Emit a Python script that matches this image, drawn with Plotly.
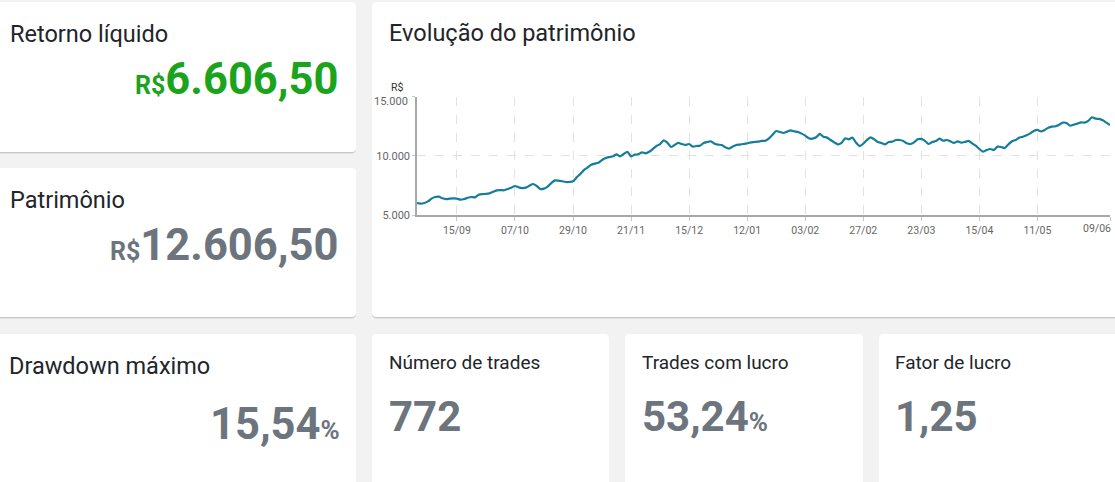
import plotly.graph_objects as go

W, H = 1115, 482

# ---------------- data ----------------
equity = [
    6000, 5960, 6010, 6150, 6380, 6520, 6550, 6410, 6350, 6380,
    6400, 6380, 6300, 6350, 6460, 6520, 6490, 6720, 6770, 6780,
    6830, 6970, 7080, 7110, 7090, 7200, 7310, 7450, 7340, 7280,
    7310, 7480, 7620, 7450, 7200, 7230, 7400, 7700, 7930, 7900,
    7850, 7790, 7790, 7850, 8180, 8460, 8800, 9010, 9250, 9340,
    9420, 9650, 9820, 9900, 9960, 10130, 9960, 10160, 10330, 9960,
    10100, 10130, 10300, 10210, 10350, 10580, 10830, 11000, 11310, 11120,
    10750, 10920, 11090, 11000, 10920, 11000, 10780, 10830, 10860, 11090,
    11170, 11230, 11030, 10950, 10920, 10720, 10610, 10780, 10920, 10950,
    11000, 11060, 11140, 11170, 11200, 11260, 11280, 11480, 11790, 12100,
    12020, 11930, 12050, 12160, 12070, 12020, 11880, 11710, 11480, 11450,
    11570, 11850, 11620, 11540, 11340, 11140, 10970, 11090, 11480, 11400,
    11540, 11120, 10830, 11030, 11340, 11570, 11400, 11170, 11090, 10970,
    11170, 11200, 11340, 11340, 11260, 11060, 11000, 11140, 11400, 11430,
    11260, 11000, 11170, 11250, 11450, 11280, 11340, 11230, 11090, 11230,
    11120, 11170, 11260, 11060, 10860, 10580, 10350, 10500, 10580, 10500,
    10780, 10750, 10660, 10970, 11230, 11340, 11540, 11620, 11740, 11900,
    12100, 12190, 12070, 12190, 12380, 12470, 12500, 12640, 12810, 12780,
    12550, 12640, 12720, 12830, 12810, 12950, 13260, 13140, 13120, 13000,
    12810, 12606.5,
]
tick_index = [11, 27, 43, 59, 75, 91, 107, 123, 139, 155, 171, 191]
tick_labels = ["15/09", "07/10", "29/10", "21/11", "15/12", "12/01",
               "03/02", "27/02", "23/03", "15/04", "11/05", "09/06"]
y_ticks = [5000, 10000, 15000]
y_tick_labels = ["5.000", "10.000", "15.000"]

card_titles = ["Retorno líquido", "Patrimônio", "Drawdown máximo",
               "Número de trades", "Trades com lucro", "Fator de lucro"]
card_values = ["6.606,50", "12.606,50", "15,54", "772", "53,24", "1,25"]
card_prefix = ["R$", "R$", "", "", "", ""]
card_suffix = ["", "", "%", "", "%", ""]
chart_title = "Evolução do patrimônio"
unit_label = "R$"

# ---------------- helpers ----------------
def px(x):
    return x / W


def py(y):
    return 1 - y / H


def rrect(x0, y0, x1, y1, r=4):
    rx, ry = r / W, r / H
    X0, X1 = px(x0), px(x1)
    Y0, Y1 = py(y0), py(y1)  # Y0 top, Y1 bottom
    return (f"M {X0+rx},{Y0} L {X1-rx},{Y0} Q {X1},{Y0} {X1},{Y0-ry} "
            f"L {X1},{Y1+ry} Q {X1},{Y1} {X1-rx},{Y1} "
            f"L {X0+rx},{Y1} Q {X0},{Y1} {X0},{Y1+ry} "
            f"L {X0},{Y0-ry} Q {X0},{Y0} {X0+rx},{Y0} Z")


FONT = "Roboto"
TITLE_C = "#212529"
GREY = "#6c757d"
GREEN = "#1ba41b"
TICK_C = "#666666"

fig = go.Figure()
fig.add_trace(go.Scatter(
    x=list(range(len(equity))), y=equity, mode="lines",
    line=dict(color="#157d9c", width=2.2, shape="spline", smoothing=0.6),
    hoverinfo="skip", showlegend=False,
))

# ---------------- cards ----------------
cards = [(-10, 2, 356, 152), (-10, 168, 356, 317), (372, 2, 1130, 317),
         (-10, 334, 356, 495), (372, 334, 609, 495), (625, 334, 863, 495),
         (879, 334, 1130, 495)]
shapes = []
for (x0, y0, x1, y1) in cards:
    shapes.append(dict(type="path", path=rrect(x0, y0 + 1, x1, y1 + 2, 5), xref="paper", yref="paper",
                       fillcolor="rgba(0,0,0,0.06)", line=dict(width=0), layer="below"))
    shapes.append(dict(type="path", path=rrect(x0, y0 + 0.5, x1, y1 + 1, 4), xref="paper", yref="paper",
                       fillcolor="rgba(0,0,0,0.12)", line=dict(width=0), layer="below"))
    shapes.append(dict(type="path", path=rrect(x0, y0, x1, y1, 4), xref="paper", yref="paper",
                       fillcolor="white", line=dict(width=0), layer="below"))

ann = []


def text(x, y, s, size, color, anchor="left", weight="normal"):
    ann.append(dict(x=px(x), y=py(y), xref="paper", yref="paper", text=s, showarrow=False,
                    xanchor=anchor, yanchor="middle",
                    font=dict(family=FONT, size=size, color=color, weight=weight)))


def value_text(i, small):
    s = ""
    if card_prefix[i]:
        s += f"<span style='font-size:{small}px'>{card_prefix[i]}</span>"
    s += card_values[i]
    if card_suffix[i]:
        s += f"<span style='font-size:{small}px'>{card_suffix[i]}</span>"
    return s


# big left cards
text(8, 34, card_titles[0], 23.5, TITLE_C)
text(340, 80, value_text(0, 25), 43.5, GREEN, "right", "bold")
text(8, 200, card_titles[1], 23.5, TITLE_C)
text(340, 245, value_text(1, 25), 43.5, GREY, "right", "bold")
text(7, 366, card_titles[2], 23.5, TITLE_C)
text(342, 424, value_text(2, 26), 43.5, GREY, "right", "bold")
# small cards
for i, x in zip([3, 4, 5], [387, 640, 893]):
    text(x, 362, card_titles[i], 19, TITLE_C)
    text(x, 416, value_text(i, 26), 42, GREY, "left", "bold")

# chart title and unit label
text(387, 33, chart_title, 23.5, TITLE_C)
text(397, 87, unit_label, 10.5, "#333333", "center")

# tick labels that the reference nudges inward (top y label, last x label)
axis_ticktext_x = tick_labels[:-1] + [""]
axis_ticktext_y = y_tick_labels[:-1] + [""]
ann.append(dict(x=0, xref="paper", y=y_ticks[-1], yref="y", text=y_tick_labels[-1],
                showarrow=False, xanchor="right", yanchor="middle", yshift=-5,
                font=dict(family=FONT, size=11, color=TICK_C)))
ann[-1]["x"] = px(410)
ann.append(dict(x=tick_index[-1], xref="x", y=y_ticks[0], yref="y", text=tick_labels[-1],
                showarrow=False, xanchor="right", yanchor="top", yshift=-5, xshift=3,
                font=dict(family=FONT, size=10.5, color=TICK_C)))

fig.update_layout(
    width=W, height=H, margin=dict(l=0, r=0, t=0, b=0, pad=0, autoexpand=False),
    paper_bgcolor="#f2f2f2", plot_bgcolor="rgba(0,0,0,0)",
    shapes=shapes, annotations=ann, showlegend=False,
    xaxis=dict(domain=[px(417), px(1110)], range=[0, len(equity) - 1], automargin=False,
               tickmode="array", tickvals=tick_index, ticktext=axis_ticktext_x,
               showgrid=True, gridcolor="#e2e2e2", griddash="dash", gridwidth=1,
               showline=True, linecolor="#a8a8a8", linewidth=2,
               ticks="outside", ticklen=4, tickcolor="#c8c8c8",
               tickfont=dict(family=FONT, size=10.5, color=TICK_C), zeroline=False),
    yaxis=dict(domain=[py(215), py(96.7)], range=[5000, 15000], automargin=False,
               tickmode="array", tickvals=y_ticks, ticktext=axis_ticktext_y,
               showgrid=True, gridcolor="#e2e2e2", griddash="dash", gridwidth=1,
               showline=True, linecolor="#a8a8a8", linewidth=1.5,
               ticks="outside", ticklen=3, tickcolor="#c8c8c8",
               tickfont=dict(family=FONT, size=11, color=TICK_C), zeroline=False),
)

fig.write_html("out.html")
